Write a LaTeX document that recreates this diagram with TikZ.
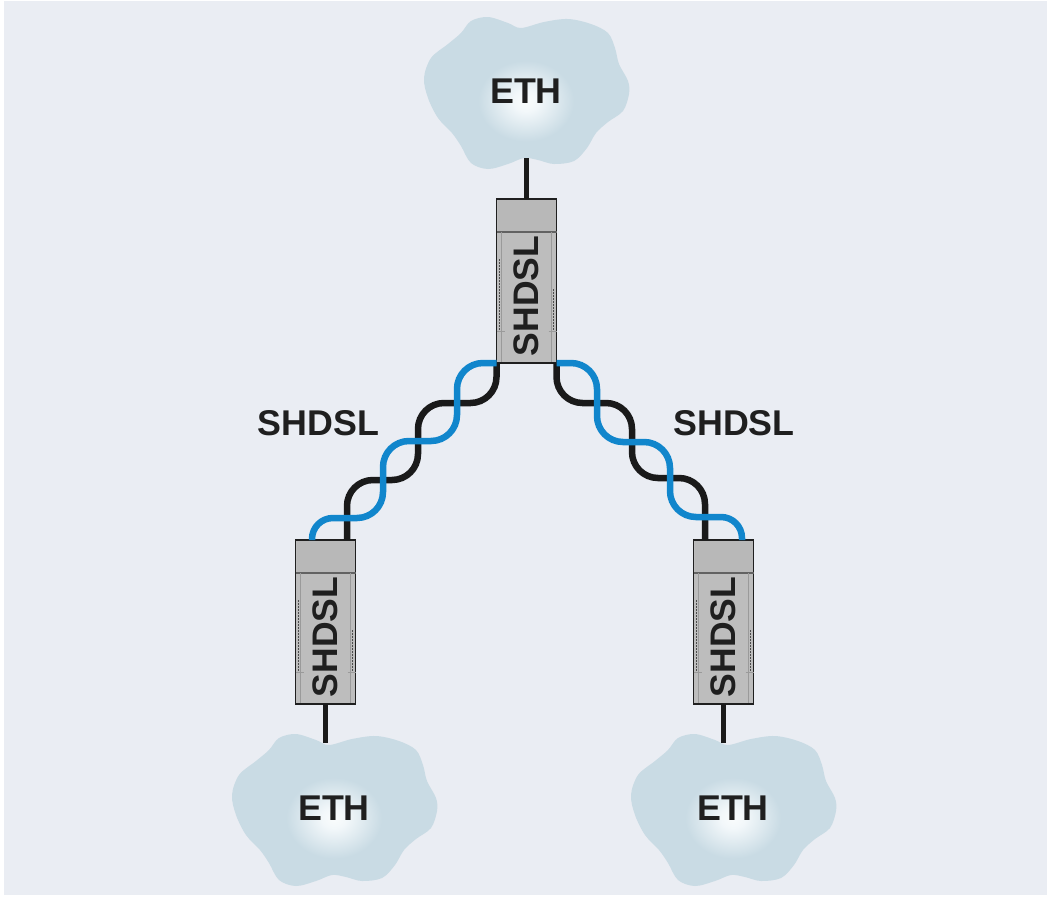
\documentclass[tikz,border=0pt]{standalone}
\usepackage{fontspec}
\setmainfont{Liberation Sans}
\definecolor{bgc}{HTML}{EAEDF3}
\definecolor{cloudc}{HTML}{C9DBE4}
\definecolor{devc}{HTML}{BDBDBD}
\definecolor{headc}{HTML}{B8B8B8}
\definecolor{inkc}{HTML}{1F1F1F}
\definecolor{wirec}{HTML}{1A1A1A}
\definecolor{bluec}{HTML}{1186CC}
\pgfdeclareradialshading{glow}{\pgfpoint{0bp}{0bp}}{%
  rgb(0bp)=(0.98,0.99,0.99);
  rgb(6bp)=(0.95,0.97,0.98);
  rgb(23bp)=(0.788,0.859,0.894);
  rgb(100bp)=(0.788,0.859,0.894)}
\tikzset{
  lbl/.style={font=\fontsize{35.8}{40}\selectfont\bfseries, text=inkc, inner sep=0pt},
  devlabel/.style={font=\fontsize{35.5}{40}\selectfont\bfseries, text=inkc, inner sep=0pt, rotate=90},
  devbody/.style={draw=inkc, line width=1.8pt, fill=devc, minimum width=60pt, minimum height=164pt, inner sep=0pt, outer sep=0pt, anchor=north west},
  rail/.style={draw=inkc!45, line width=0.6pt},
  railtex/.style={draw=inkc!80, line width=1.6pt, dash pattern=on 2pt off 1pt},
  drop/.style={draw=wirec, line width=5pt},
  pairk/.style={draw=wirec, line width=6.5pt, rounded corners=26pt},
  pairb/.style={draw=bluec, line width=6.5pt, rounded corners=26pt},
}
\newcommand{\cloudat}[3]{%
  \begin{scope}[shift={(#1,#2)}]
    \fill[cloudc] plot[smooth cycle, tension=0.55] coordinates {
      (-5,-63) (18,-69) (42,-72) (65,-67) (82,-58) (89,-43) (93,-27) (102,-10) (103,3)
      (97,20) (82,31) (70,42) (61,57) (48,70) (28,73) (12,69) (-2,67) (-18,73) (-38,78)
      (-55,72) (-65,55) (-74,42) (-88,27) (-98,7) (-102,-13) (-95,-33) (-78,-47)
      (-65,-58) (-55,-70) (-38,-74) (-18,-68)};
    \shade[shading=glow] (0,10) ellipse [x radius=52, y radius=44];
    \node[lbl] (#3) at (0,0) {ETH};
  \end{scope}}
\newcommand{\devat}[3]{%
  \begin{scope}[shift={(#1,#2)}]
    \node[devbody] (#3) at (0,0) {};
    \fill[headc] (1,1) rectangle (59,33);
    \draw[inkc!70, line width=1.2pt] (0,33) -- (60,33);
    \draw[rail] (5,33) -- (5,163);
    \draw[rail] (55,33) -- (55,163);
    \draw[railtex] (3,60) -- (3,132);
    \draw[railtex] (57,90) -- (57,132);
    \draw[rail] (0,132) -- (8,132);
    \draw[rail] (52,132) -- (60,132);
    \node[devlabel] (#3text) at (30,97) {SHDSL};
  \end{scope}}
\begin{document}
\begin{tikzpicture}[x=1pt,y=-1pt]
\useasboundingbox (0,0) rectangle (1047,898);
\fill[white] (0,0) rectangle (1047,898);
\fill[bgc] (4,1) rectangle (1047,895);

\cloudat{526}{91}{ethtop}
\cloudat{334}{808}{ethleft}
\cloudat{733}{808}{ethright}

\coordinate (dropT) at (526,158);
\coordinate (dropL) at (325,743);
\coordinate (dropR) at (723,743);
\coordinate (lkend) at (347,540);
\coordinate (lbend) at (312,540);
\coordinate (rkend) at (705,540);
\coordinate (rbend) at (742,540);

\devat{496.5}{199}{devtop}
\devat{295.5}{540}{devleft}
\devat{693.5}{540}{devright}

\draw[drop] (dropT) -- (dropT |- devtop.north);
\draw[drop] (dropL |- devleft.south) -- (dropL);
\draw[drop] (dropR |- devright.south) -- (dropR);

\draw[pairk] (devtop.south west) -- (496.5,403) -- (418,403) -- (418,480) -- (347,480) -- (lkend);
\draw[pairb] (devtop.south west) -- (457,363) -- (457,441) -- (383,441) -- (383,518) [rounded corners=21pt] -- (312,518) -- (lbend);
\draw[pairk] (devtop.south east) -- (556.5,403) -- (632,403) -- (632,478) -- (705,478) -- (rkend);
\draw[pairb] (devtop.south east) -- (597,363) -- (597,442) -- (670,442) -- (670,517) [rounded corners=21pt] -- (742,517) -- (rbend);

\node[lbl] (slabL) at (318.5,423) {SHDSL};
\node[lbl] (slabR) at (734,423) {SHDSL};
\end{tikzpicture}
\end{document}
